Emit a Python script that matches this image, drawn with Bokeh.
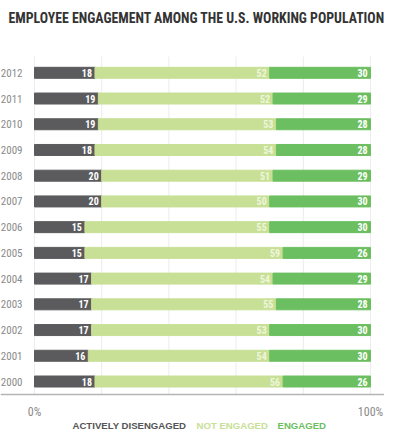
from bokeh.plotting import figure
from bokeh.models import Range1d, FixedTicker, ColumnDataSource, LinearAxis
from bokeh.core.properties import value
from bokeh.embed import file_html
from bokeh.resources import INLINE

years = ["2000", "2001", "2002", "2003", "2004", "2005", "2006",
         "2007", "2008", "2009", "2010", "2011", "2012"]
actively_disengaged = [18, 16, 17, 17, 17, 15, 15, 20, 20, 18, 19, 19, 18]
not_engaged = [56, 54, 53, 55, 54, 59, 55, 50, 51, 54, 53, 52, 52]
engaged = [26, 30, 30, 28, 29, 26, 30, 30, 29, 28, 28, 29, 30]
series_names = ["ACTIVELY DISENGAGED", "NOT ENGAGED", "ENGAGED"]
x_tick_values = [0, 100]
x_tick_labels = ["0%", "100%"]
grid_values = [0, 20, 40, 60, 80, 100]
title_text = "EMPLOYEE ENGAGEMENT AMONG THE U.S. WORKING POPULATION"

C_DARK = "#5b5b5d"
C_LIGHT = "#c8e096"
C_GREEN = "#6cbf60"
F_COND = "Roboto Condensed"

# ---- pixel layout (canvas coordinates, origin top-left)
W, H = 384, 430
PX_X0, PX_X100 = 34.0, 370.0          # where 0% and 100% fall
PX_FIRST, PX_LAST = 381.0, 72.3       # centre of first / last bar row
n = len(years)
sx = (PX_X100 - PX_X0) / 100.0
sy = (PX_FIRST - PX_LAST) / (n - 1)

def dx(px):
    return (px - PX_X0) / sx

def dy(py):
    return (PX_FIRST - py) / sy

p = figure(width=W, height=H, output_backend="svg", toolbar_location=None,
           x_range=Range1d(dx(0), dx(W)), y_range=Range1d(dy(H), dy(0)),
           min_border=0, x_axis_type=None, y_axis_type=None)
p.outline_line_color = None
p.grid.visible = False

ypos = list(range(n))
e1 = list(actively_disengaged)
e2 = [a + b for a, b in zip(actively_disengaged, not_engaged)]
e3 = [a + b + c for a, b, c in zip(actively_disengaged, not_engaged, engaged)]

src = ColumnDataSource(dict(
    y=ypos, s0=[0] * n, e1=e1, e2=e2, e3=e3,
    t1=[str(v) for v in actively_disengaged],
    t2=[str(v) for v in not_engaged],
    t3=[str(v) for v in engaged],
))

# light vertical grid lines over the bar area
p.segment(x0=grid_values, x1=grid_values,
          y0=[-0.5] * len(grid_values), y1=[dy(56)] * len(grid_values),
          line_color="#ececec", line_width=1)

bh = 11.0 / sy
p.hbar(y="y", left="s0", right="e1", height=bh, color=C_DARK, source=src)
p.hbar(y="y", left="e1", right="e2", height=bh, color=C_LIGHT, source=src)
p.hbar(y="y", left="e2", right="e3", height=bh, color=C_GREEN, source=src)

common = dict(y="y", x_offset=-3, text_align="right", text_baseline="middle",
              text_font=value(F_COND), text_font_style="bold",
              text_font_size="10px", source=src)
p.text(x="e1", text="t1", text_color="white", **common)
p.text(x="e2", text="t2", text_color="#eef6dc", **common)
p.text(x="e3", text="t3", text_color="white", **common)

# axes fixed inside the canvas
xax = LinearAxis(fixed_location=-0.5)
xax.ticker = FixedTicker(ticks=x_tick_values)
xax.major_label_overrides = dict(zip(x_tick_values, x_tick_labels))
xax.axis_line_color = "#b5b5b5"
xax.axis_line_width = 1.5
xax.major_tick_line_color = None
xax.minor_tick_line_color = None
xax.major_label_text_font = F_COND
xax.major_label_text_font_size = "12px"
xax.major_label_text_color = "#8a8a8a"
xax.major_label_standoff = 5
p.add_layout(xax, "below")

yax = LinearAxis(fixed_location=0)
yax.ticker = FixedTicker(ticks=ypos)
yax.major_label_overrides = {i: y for i, y in enumerate(years)}
yax.axis_line_color = None
yax.major_tick_line_color = None
yax.minor_tick_line_color = None
yax.major_label_text_font = F_COND
yax.major_label_text_font_size = "11px"
yax.major_label_text_color = "#8a8a8a"
yax.major_label_standoff = 6
p.add_layout(yax, "left")

# title
p.text(x=[dx(8)], y=[dy(17.3)], text=[title_text], text_font=value(F_COND),
       text_font_style="bold", text_font_size="13.8px", text_color="#333333",
       text_baseline="middle", text_align="left")

# legend as coloured text
leg_px = [72, 196, 277]
leg_c = ["#555555", C_LIGHT, C_GREEN]
p.text(x=[dx(v) for v in leg_px], y=[dy(425)] * 3, text=series_names,
       text_color=leg_c, text_font=value("Liberation Sans"),
       text_font_style="bold", text_font_size="9.6px",
       text_baseline="middle", text_align="left")

open("out.html", "w").write(file_html(p, INLINE))
